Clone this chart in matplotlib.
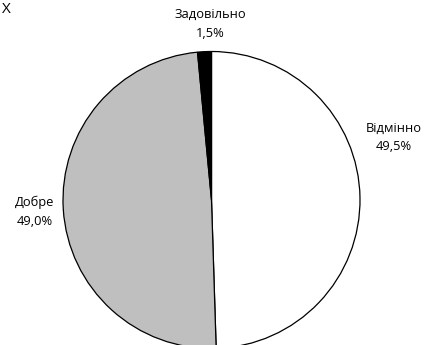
import matplotlib
matplotlib.use("Agg")
import matplotlib.pyplot as plt

categories = ["Відмінно", "Добре", "Задовільно"]
values = [49.5, 49.0, 1.5]
pct_labels = ["49,5%", "49,0%", "1,5%"]
colors = ["#FFFFFF", "#BFBFBF", "#000000"]
label_pos = [(1.225, 0.42), (-1.19, -0.08), (-0.01, 1.185)]

plt.rcParams['font.family'] = ['Open Sans', 'DejaVu Sans']

fig = plt.figure(figsize=(4.27, 3.45), dpi=100)
W, H = 427, 345
cx, cy, r = 211.5, 200, 148.5
ax = fig.add_axes([(cx - r) / W, (H - cy - r) / H, 2 * r / W, 2 * r / H])
ax.pie(values, colors=colors, startangle=90, counterclock=False,
       wedgeprops=dict(edgecolor="black", linewidth=0.9))
ax.set_xlim(-1, 1)
ax.set_ylim(-1, 1)
ax.set_aspect('auto')

for cat, pl, (x, y) in zip(categories, pct_labels, label_pos):
    ax.text(x, y, f"{cat}\n{pl}", ha="center", va="center", fontsize=9.3,
            linespacing=1.55, clip_on=False)

fig.text(2 / W, 1 - 2 / H, "X", ha="left", va="top", fontsize=11)
fig.savefig("out.png", dpi=100)
